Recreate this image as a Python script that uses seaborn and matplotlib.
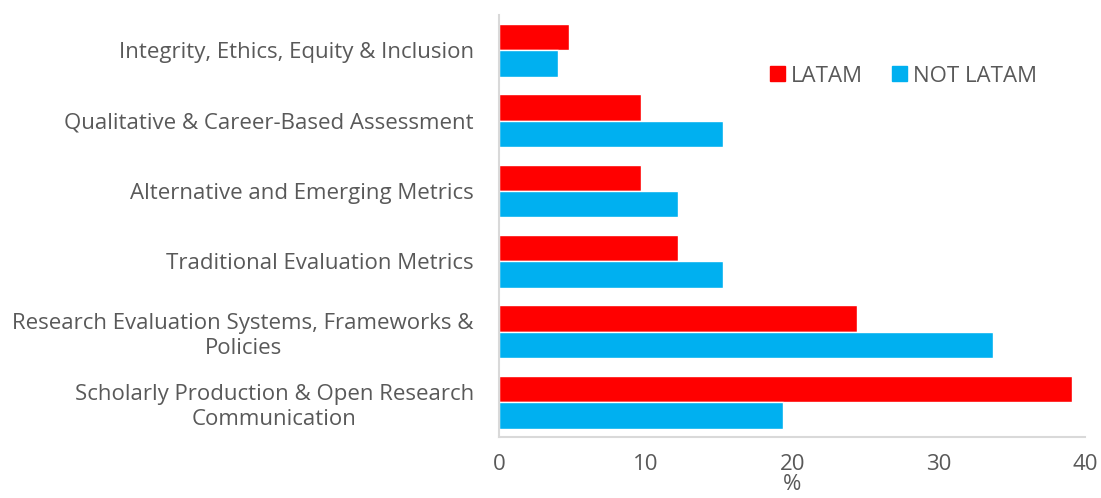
import pandas as pd
import matplotlib
matplotlib.use("Agg")
import matplotlib.pyplot as plt
import seaborn as sns
from matplotlib.patches import Patch

categories = [
    "Integrity, Ethics, Equity & Inclusion",
    "Qualitative & Career-Based Assessment",
    "Alternative and Emerging Metrics",
    "Traditional Evaluation Metrics",
    "Research Evaluation Systems, Frameworks &\nPolicies",
    "Scholarly Production & Open Research\nCommunication",
]
latam = [4.8, 9.7, 9.7, 12.2, 24.4, 39.1]
not_latam = [4.0, 15.3, 12.2, 15.3, 33.7, 19.4]

df = pd.DataFrame({
    "category": categories * 2,
    "value": latam + not_latam,
    "group": ["LATAM"] * len(categories) + ["NOT LATAM"] * len(categories),
})

sns.set_style("white")
plt.rcParams["font.family"] = ["Open Sans", "DejaVu Sans"]

colors = {"LATAM": "#FF0000", "NOT LATAM": "#00B0F0"}
grey = "#595959"
fs = 16

fig = plt.figure(figsize=(11.01, 4.98), dpi=100)
ax = fig.add_axes([0.4532, 0.1215, 0.5327, 0.8485])
sns.barplot(data=df, x="value", y="category", hue="group", palette=colors,
            width=0.75, order=categories, ax=ax, legend=False, saturation=1)

ax.set_xlim(0, 40)
ax.set_ylim(5.5, -0.5)
ax.set_xticks([0, 10, 20, 30, 40])
ax.set_xlabel("%", fontsize=fs, color=grey, labelpad=-1)
ax.set_ylabel("")
ax.tick_params(axis="both", length=0, labelsize=fs, labelcolor=grey)
ax.tick_params(axis="x", pad=12)
ax.tick_params(axis="y", pad=18)
for lab in ax.get_yticklabels():
    lab.set_horizontalalignment("right")
    lab.set_multialignment("center")
    lab.set_linespacing(1.25)

for s in ["top", "right"]:
    ax.spines[s].set_visible(False)
for s in ["left", "bottom"]:
    ax.spines[s].set_color("#D9D9D9")
    ax.spines[s].set_linewidth(1.5)

handles = [Patch(color=colors[k], label=k) for k in ["LATAM", "NOT LATAM"]]
ax.legend(handles=handles, loc="center", bbox_to_anchor=(0.69, 0.855), ncol=2,
          frameon=False, fontsize=fs, handlelength=0.65, handleheight=0.65,
          handletextpad=0.3, columnspacing=1.3, labelcolor=grey)

fig.savefig("out.png", dpi=100)
